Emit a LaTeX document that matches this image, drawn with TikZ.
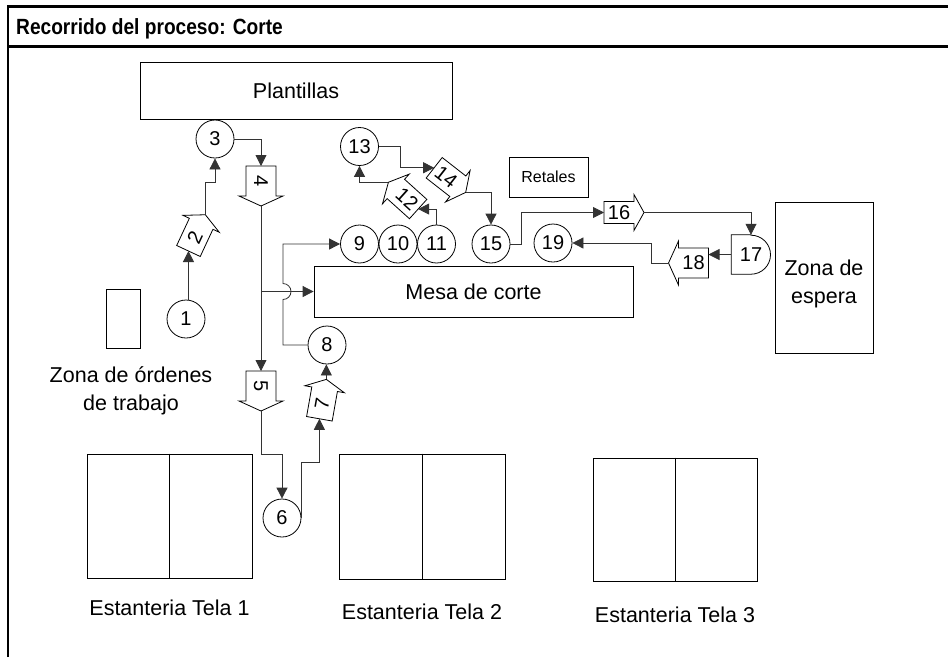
\documentclass[tikz,border=0pt]{standalone}
\usepackage{fontspec}
\setmainfont{Liberation Sans}
\newfontfamily\titlefont[FakeStretch=0.87]{Liberation Sans}
\usetikzlibrary{arrows.meta,calc}
\newcommand\transpsym[7]{%
  \begin{scope}[shift={(#2,#3)},rotate=#4]
    \draw[shp,fill=white] (-15,-#6) -- (15,-#6) -- (15,-#6-7) -- (25,0) -- (15,#6+7) -- (15,#6) -- (-15,#6) -- cycle;
    \coordinate (#1-in) at (-15,0);
    \coordinate (#1-out) at (25,0);
  \end{scope}
  \node[num,rotate=#5,inner sep=0pt] (#1) at (#2,#3) {#7};
}
\begin{document}
\begin{tikzpicture}[x=1pt,y=-1pt,
  shp/.style={draw=black,line width=0.8pt},
  num/.style={font=\fontsize{20}{24}\selectfont},
  circ/.style={shp,circle,minimum size=38pt,inner sep=0pt,num},
  box/.style={shp,rectangle,inner sep=0pt,font=\fontsize{21.5}{26}\selectfont},
  lbl/.style={font=\fontsize{21.5}{28}\selectfont,align=center,inner sep=0pt},
  conn/.style={draw=black!80,line width=0.8pt},
  arr/.style={conn,-{Triangle[length=11pt,width=11pt]}},
  framel/.style={line width=2.5pt,line join=miter}
]
\useasboundingbox (0,0) rectangle (948,657);
% frame
\draw[framel] (8,657) -- (8,6.5) -- (948,6.5);
\draw[framel] (8,46.5) -- (948,46.5);
\node[anchor=base west,font=\titlefont\bfseries\fontsize{22}{26}\selectfont,inner sep=0pt] (title) at (16,34.5) {Recorrido del proceso: Corte};
% boxes
\node[box,minimum width=312pt,minimum height=57pt] (plant) at (296,90.5) {Plantillas};
\node[box,minimum width=319pt,minimum height=51pt] (mesa) at (473.5,291.5) {Mesa de corte};
\node[box,minimum width=79pt,minimum height=40pt,font=\fontsize{16}{19}\selectfont] (ret) at (548.5,177) {Retales};
\node[box,minimum width=98pt,minimum height=151pt] (espera) at (824,277.5) {};
\node[lbl] (esperaL) at (824,283.5) {Zona de\\espera};
\node[box,minimum width=34pt,minimum height=59pt] (ord) at (123,318.5) {};
\node[lbl] (ordL) at (131,390.5) {Zona de órdenes\\de trabajo};
\node[box,minimum width=165pt,minimum height=124pt] (e1) at (169.5,516) {};
\node[box,minimum width=166pt,minimum height=125pt] (e2) at (422,516.5) {};
\node[box,minimum width=164pt,minimum height=123pt] (e3) at (675,519.5) {};
\draw[shp] (e1.north) -- (e1.south);
\draw[shp] (e2.north) -- (e2.south);
\draw[shp] (e3.north) -- (e3.south);
\node[lbl,anchor=base] (e1L) at (169.5,615) {Estanteria Tela 1};
\node[lbl,anchor=base] (e2L) at (422,619) {Estanteria Tela 2};
\node[lbl,anchor=base] (e3L) at (675,622) {Estanteria Tela 3};
% circles
\node[circ] (c1) at (186,319) {1};
\node[circ] (c3) at (215,139) {3};
\node[circ] (c6) at (282,518) {6};
\node[circ] (c8) at (327,345) {8};
\node[circ] (c9) at (359.5,244) {9};
\node[circ] (c10) at (398,244) {10};
\node[circ] (c11) at (436.5,244) {11};
\node[circ] (c13) at (359.5,146.5) {13};
\node[circ] (c15) at (491,244) {15};
\node[circ] (c19) at (553,243) {19};
% delay 17
\node[num,minimum size=39pt,inner sep=0pt] (c17) at (751,254.5) {17};
\draw[shp] (c17.north) -- (c17.north west) -- (c17.south west) -- (c17.south) arc[start angle=-90,end angle=90,radius=19.5pt] -- cycle;
% transports
\transpsym{t2}{194.8}{237.4}{65}{65}{13}{2}
\transpsym{t4}{261}{181}{-90}{-90}{15}{4}
\transpsym{t5}{261}{386}{-90}{-90}{15}{5}
\transpsym{t7}{322}{404}{80}{80}{13}{7}
\transpsym{t12}{407}{199}{138}{-42}{13}{12}
\transpsym{t14}{446}{177}{-38}{-38}{13}{14}
\transpsym{t16}{619}{212.5}{0}{0}{11}{16}
\transpsym{t18}{693.5}{263}{180}{0}{15}{18}
% connectors
\draw[arr] (t2-in |- c1.north) -- (t2-in);
\draw[arr] (t2-out) |- ([yshift=-24pt]c3.south) -- (c3.south);
\draw[arr] (c3.east) -| (t4-in);
\coordinate (j) at (t4-out |- mesa.west);
\draw[arr] (t4-out) -- (j) -- (mesa.west);
\draw[arr] (j) -- (t5-in);
\draw[arr] (t5-out) -- ++(0,43) -| (c6.north);
\draw[arr] (c6.east) -- ++(0,-56) -| (t7-in);
\draw[arr] (t7-out) -- (t7-out |- c8.south);
\coordinate (jmp) at ([xshift=22pt]j);
\draw[arr] (c8.west) -| ([yshift=-8pt]jmp) arc[start angle=-90,end angle=90,radius=8pt] |- (c9.west);
\draw[arr] (c11.north) |- (t12-in);
\draw[arr] (t12-out) -| (c13.south);
\draw[arr] (c13.east) -- ++(21,0) |- (t14-in);
\draw[arr] (t14-out) -| (c15.north);
\draw[arr] (c15.east) -- ++(11,0) |- (t16-in);
\draw[arr] (t16-out) -| (c17.north);
\draw[arr] (c17.west) -- (c17.west -| t18-in);
\draw[arr] (t18-out) -- ++(-17,0) |- (c19.east);
\end{tikzpicture}
\end{document}
